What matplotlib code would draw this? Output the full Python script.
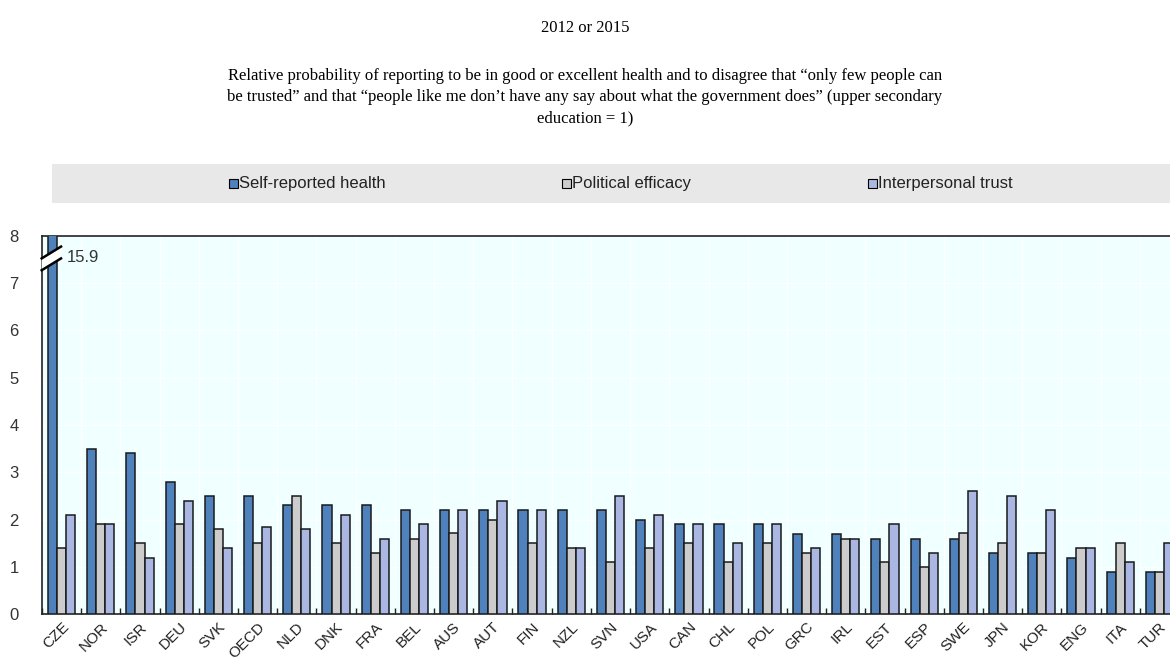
import matplotlib
matplotlib.use("Agg")
import matplotlib.pyplot as plt
import numpy as np
from matplotlib.patches import Rectangle, Polygon
from matplotlib.lines import Line2D

countries = ["CZE", "NOR", "ISR", "DEU", "SVK", "OECD", "NLD", "DNK", "FRA", "BEL",
             "AUS", "AUT", "FIN", "NZL", "SVN", "USA", "CAN", "CHL", "POL", "GRC",
             "IRL", "EST", "ESP", "SWE", "JPN", "KOR", "ENG", "ITA", "TUR"]
health = [15.9, 3.5, 3.4, 2.8, 2.5, 2.5, 2.3, 2.3, 2.3, 2.2,
          2.2, 2.2, 2.2, 2.2, 2.2, 2.0, 1.9, 1.9, 1.9, 1.7,
          1.7, 1.6, 1.6, 1.6, 1.3, 1.3, 1.2, 0.9, 0.9]
efficacy = [1.4, 1.9, 1.5, 1.9, 1.8, 1.5, 2.5, 1.5, 1.3, 1.6,
            1.72, 2.0, 1.5, 1.4, 1.1, 1.4, 1.5, 1.1, 1.5, 1.3,
            1.6, 1.1, 1.0, 1.72, 1.5, 1.3, 1.4, 1.5, 0.9]
trust = [2.1, 1.9, 1.2, 2.4, 1.4, 1.85, 1.8, 2.1, 1.6, 1.9,
         2.2, 2.4, 2.2, 1.4, 2.5, 2.1, 1.9, 1.5, 1.9, 1.4,
         1.6, 1.9, 1.3, 2.6, 2.5, 2.2, 1.4, 1.1, 1.5]
series_names = ["Self-reported health", "Political efficacy", "Interpersonal trust"]
colors = ["#4F81BD", "#CCCCCC", "#A9B7E2"]
yticks = [0, 1, 2, 3, 4, 5, 6, 7, 8]
ymax = 8

title = "2012 or 2015"
subtitle = ("Relative probability of reporting to be in good or excellent health and to disagree that \u201conly few people can\n"
            "be trusted\u201d and that \u201cpeople like me don\u2019t have any say about what the government does\u201d (upper secondary\n"
            "education = 1)")

W, H = 1170, 660
fig = plt.figure(figsize=(W / 100, H / 100), dpi=100)
fig.patch.set_facecolor("white")

serif = ["Liberation Serif", "DejaVu Serif"]
sans = ["Liberation Sans", "DejaVu Sans"]

fig.text(0.5, 1 - 28 / H, title, ha="center", va="center", fontsize=12, family=serif)
fig.text(0.5, 1 - 97 / H, subtitle, ha="center", va="center", fontsize=12,
         family=serif, linespacing=1.45)

# Legend band
fig.patches.append(Rectangle((52 / W, 1 - 203 / H), 1.0 - 52 / W, 39 / H,
                             transform=fig.transFigure, facecolor="#E8E8E8",
                             edgecolor="none", zorder=0))
leg_x = [229, 562, 868]
ly = 1 - 183 / H
for name, c, lx in zip(series_names, colors, leg_x):
    fig.patches.append(Rectangle((lx / W, ly - 4.5 / H), 9 / W, 9 / H,
                                 transform=fig.transFigure, facecolor=c,
                                 edgecolor="black", linewidth=0.8, zorder=2))
    fig.text((lx + 10) / W, ly, name, ha="left", va="center", fontsize=12,
             family=sans, color="#222222")

ax = fig.add_axes([42 / W, 1 - 614.3 / H, 1137 / W, (614.3 - 235.7) / H])
ax.set_facecolor("#F0FFFF")
n = len(countries)
x = np.arange(n)
w = 0.232
for k, (vals, c) in enumerate(zip([health, efficacy, trust], colors)):
    ax.bar(x + (k - 1) * w, vals, width=w, color=c, edgecolor="#1a1a1a",
           linewidth=1.1, zorder=3)

ax.set_xlim(-0.5, n - 0.5)
ax.set_ylim(0, ymax)
ax.set_yticks(yticks)
ax.set_yticklabels([str(t) for t in yticks], family=sans, fontsize=12, color="#333333")
ax.tick_params(axis="y", length=0, pad=20)
for lab in ax.get_yticklabels():
    lab.set_horizontalalignment("center")
ax.set_xticks(x)
ax.set_xticklabels(countries, rotation=45, ha="right", va="top",
                   rotation_mode="anchor", family=sans, fontsize=11, color="#222222")
ax.tick_params(axis="x", length=0, pad=4)
# boundary ticks
ax.set_xticks(np.arange(n + 1) - 0.5, minor=True)
ax.tick_params(axis="x", which="minor", direction="in", length=4, width=1, color="#222222")

ax.grid(True, axis="y", color="white", linewidth=0.8, zorder=1)
for b in np.arange(1, n) - 0.5:
    ax.axvline(b, color="white", linewidth=0.8, zorder=1)
for s in ["left", "bottom", "top"]:
    ax.spines[s].set_color("#222222")
    ax.spines[s].set_linewidth(1.2)
ax.spines["right"].set_visible(False)

# Axis break marker on the CZE bar
x0, x1 = -0.508, -0.015
lo0, lo1 = 7.27, 7.52
up0, up1 = 7.52, 7.77
poly = Polygon([[x0, lo0], [x1, lo1], [x1, up1], [x0, up0]],
               closed=True, facecolor="white", edgecolor="none", zorder=5,
               clip_on=False)
ax.add_patch(poly)
for a, b in ((lo0, lo1), (up0, up1)):
    ax.add_line(Line2D([x0, x1], [a, b], color="black", linewidth=1.8, zorder=6,
                       clip_on=False))
ax.text(0.13, 7.54, f"{health[0]}", ha="left", va="center",
        fontsize=12, family=sans, color="#333333", zorder=7)

fig.savefig("out.png", dpi=100)
